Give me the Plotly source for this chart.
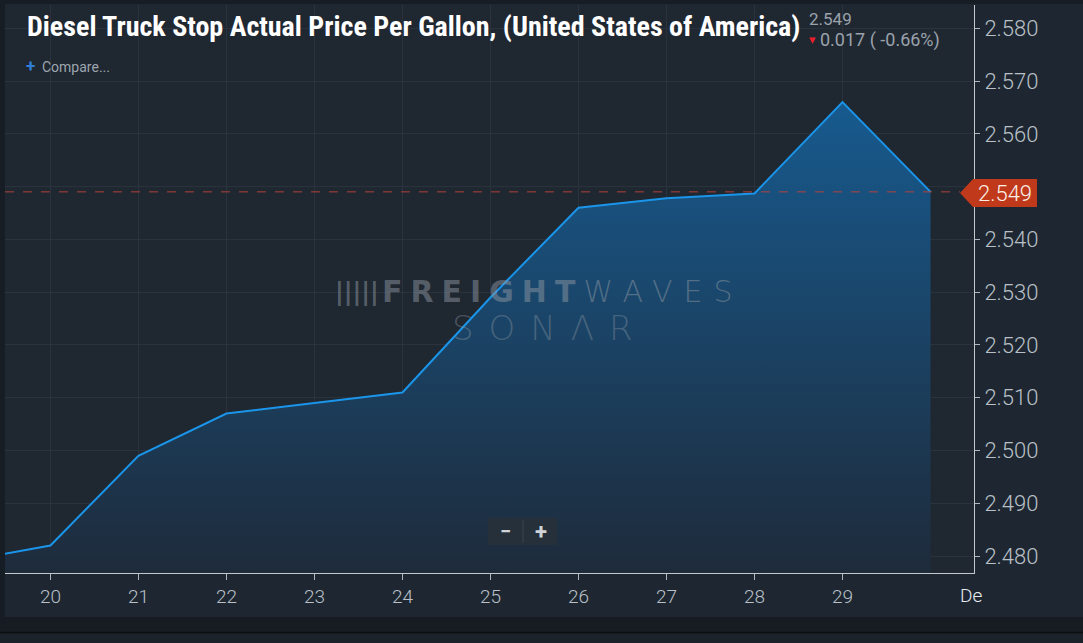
import plotly.graph_objects as go

# Nov 2019 daily values
days = [19, 20, 21, 22, 23, 24, 25, 26, 27, 28, 29, 30]
price = [2.479, 2.482, 2.499, 2.507, 2.509, 2.511, 2.529, 2.546, 2.5478, 2.5487, 2.566, 2.549]
day_ticks = [20, 21, 22, 23, 24, 25, 26, 27, 28, 29]
day_labels = [str(d) for d in day_ticks]
price_ticks = [2.48, 2.49, 2.50, 2.51, 2.52, 2.53, 2.54, 2.55, 2.56, 2.57, 2.58]
# 2.550 sits behind the last-price tag
price_labels = ["" if abs(v - 2.55) < 1e-9 else f"{v:.3f}" for v in price_ticks]
last_price = 2.549
change = "0.017 ( -0.66%)"
title = "Diesel Truck Stop Actual Price Per Gallon, (United States of America)"

W, H = 1083, 643
L, R, T, B = 5, 974, 5, 573


def fx(p):
    return (p - L) / (R - L)


def fy(p):
    return (B - p) / (B - T)


fig = go.Figure()
fig.add_trace(go.Scatter(
    x=days, y=price, mode="lines",
    line=dict(color="#1a95ea", width=2),
    fill="tozeroy",
    fillgradient=dict(type="vertical", start=2.4768, stop=2.566,
                      colorscale=[[0, "#1e2b3b"], [1, "#175a8e"]]),
    hoverinfo="skip", showlegend=False,
))

shapes = [
    # frame strips
    dict(type="rect", xref="paper", yref="paper", x0=fx(0), x1=fx(L), y0=fy(H), y1=fy(0),
         fillcolor="#171d24", line_width=0, layer="below"),
    dict(type="rect", xref="paper", yref="paper", x0=fx(0), x1=fx(W), y0=fy(4), y1=fy(0),
         fillcolor="#171d24", line_width=0, layer="below"),
    dict(type="rect", xref="paper", yref="paper", x0=fx(0), x1=fx(W), y0=fy(H), y1=fy(617),
         fillcolor="#161c22", line_width=0, layer="below"),
    dict(type="rect", xref="paper", yref="paper", x0=fx(0), x1=fx(W), y0=fy(H), y1=fy(633),
         fillcolor="#1b2229", line_width=0, layer="below"),
    dict(type="line", xref="paper", yref="paper", x0=fx(0), x1=fx(W), y0=fy(632.5), y1=fy(632.5),
         line=dict(color="#0b0e11", width=1.5), layer="below"),
    # last price dashed line
    dict(type="line", xref="paper", yref="y", x0=0, x1=fx(960), y0=last_price, y1=last_price,
         line=dict(color="#b2423a", width=1, dash="dash"), layer="above"),
    # price tag
    dict(type="path", xref="paper", yref="paper",
         path="M {} {} L {} {} L {} {} L {} {} L {} {} Z".format(
             fx(960), fy(193), fx(973), fy(179), fx(1037), fy(179), fx(1037), fy(207), fx(973), fy(207)),
         fillcolor="#c0391b", line_width=0, layer="above"),
    # zoom control
    dict(type="rect", xref="paper", yref="paper", x0=fx(488), x1=fx(557), y0=fy(545), y1=fy(518),
         fillcolor="#26303a", line_width=0, layer="above"),
    dict(type="line", xref="paper", yref="paper", x0=fx(523), x1=fx(523), y0=fy(543), y1=fy(520),
         line=dict(color="#3a4550", width=1), layer="above"),
]

wm = "rgba(140,150,160,0.5)"
anns = [
    dict(text="<b>" + title + "</b>", x=fx(25), y=fy(27), xanchor="left", yanchor="middle",
         font=dict(family="Roboto Condensed, Liberation Sans Narrow, Roboto", size=28,
                   color="#ffffff")),
    dict(text=f"{last_price:.3f}", x=fx(807), y=fy(19), xanchor="left", yanchor="middle",
         font=dict(family="Roboto", size=17, color="#9aa2ab")),
    dict(text="▾", x=fx(807), y=fy(40), xanchor="left", yanchor="middle",
         font=dict(family="DejaVu Sans", size=13, color="#e8202c")),
    dict(text=change, x=fx(818), y=fy(40), xanchor="left", yanchor="middle",
         font=dict(family="Roboto", size=18, color="#9aa2ab")),
    dict(text="<b>+</b>", x=fx(24), y=fy(66), xanchor="left", yanchor="middle",
         font=dict(family="Roboto", size=17, color="#2f7fd6")),
    dict(text="Compare...", x=fx(40), y=fy(67), xanchor="left", yanchor="middle",
         font=dict(family="Roboto", size=14, color="#9da5ae")),
    dict(text=f"{last_price:.3f}", x=fx(1005), y=fy(193), xanchor="center", yanchor="middle",
         font=dict(family="Roboto", size=22, color="#fbeee6", weight=300)),
    dict(text="De", x=fx(958), y=fy(595), xanchor="left", yanchor="middle",
         font=dict(family="Roboto", size=19, color="#e8ecef", weight=300)),
    # watermark
    dict(text="<b>|||||</b>", x=fx(357), y=fy(292), xanchor="center", yanchor="middle",
         font=dict(family="DejaVu Sans", size=24, color=wm)),
    dict(text="<b><span style='letter-spacing:8px'>FREIGHT</span></b>"
              "<span style='font-weight:200;letter-spacing:11px'>WAVES</span>",
         x=fx(563), y=fy(292), xanchor="center", yanchor="middle",
         font=dict(family="DejaVu Sans", size=30, color=wm)),
    dict(text="<span style='letter-spacing:15px'>SONΛR</span>", x=fx(550), y=fy(328),
         xanchor="center", yanchor="middle",
         font=dict(family="DejaVu Sans", size=34, color="rgba(140,150,160,0.4)", weight=200)),
    # zoom buttons
    dict(text="<b>−</b>", x=fx(505), y=fy(531), xanchor="center", yanchor="middle",
         font=dict(family="Roboto", size=20, color="#d0d4d8")),
    dict(text="<b>+</b>", x=fx(541), y=fy(531), xanchor="center", yanchor="middle",
         font=dict(family="Roboto", size=22, color="#d0d4d8")),
]
for a in anns:
    a.update(xref="paper", yref="paper", showarrow=False)

fig.update_layout(
    width=W, height=H,
    margin=dict(l=L, r=W - R, t=T, b=H - B),
    paper_bgcolor="#1e2731",
    plot_bgcolor="#1f2731",
    shapes=shapes, annotations=anns,
    hovermode=False,
    xaxis=dict(range=[19.484, 30.494], tickvals=day_ticks, ticktext=day_labels,
               showgrid=True, gridcolor="#29323d", zeroline=False,
               showline=True, linecolor="#c3c8cd", linewidth=1,
               ticks="outside", ticklen=6, tickcolor="#b0b6bc",
               tickfont=dict(family="Roboto", size=19, color="#b9c0c8", weight=300),
               fixedrange=True),
    yaxis=dict(range=[2.4768, 2.5844], side="right", tickvals=price_ticks, ticktext=price_labels,
               showgrid=True, gridcolor="#29323d", zeroline=False,
               showline=True, linecolor="#c3c8cd", linewidth=1,
               ticks="outside", ticklen=5, tickcolor="#b0b6bc",
               tickfont=dict(family="Roboto", size=22, color="#b9c0c8", weight=300),
               fixedrange=True),
)

fig.write_html("out.html", config={"displayModeBar": False},
               post_script="document.body.style.margin='0';document.body.style.background='#1e2731';")
